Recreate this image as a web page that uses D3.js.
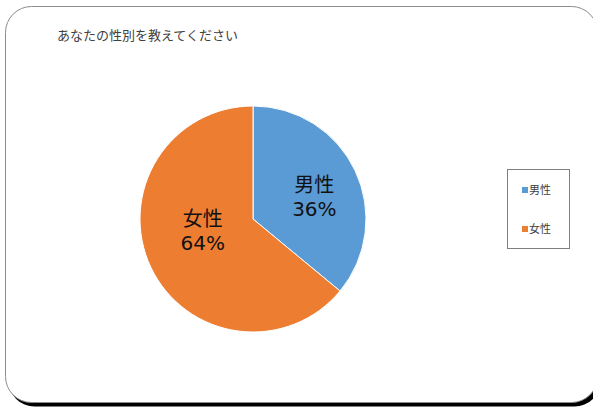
<html>
<head>
    <meta charset="utf-8">
    <script src="https://cdn.jsdelivr.net/npm/d3@7"></script>
    <style>
        body { margin: 0; background: #fff; }
    </style>
</head>
<body>
    <script type="text/javascript">
        var width = 593;
        var height = 408;

        // chart data
        const title = "あなたの性別を教えてください";
        const categories = ["男性", "女性"];
        const values = [36, 64];
        const colors = ["#5B9BD5", "#ED7D31"];

        const svg = d3.select("body").append("svg")
            .attr("width", width)
            .attr("height", height)
            .style("font-family", "'Noto Sans CJK JP', sans-serif");

        // frame with shadow
        svg.append("rect")
            .attr("x", 8.5).attr("y", 10.5)
            .attr("width", 592).attr("height", 396)
            .attr("rx", 26).attr("ry", 26)
            .attr("fill", "#000");

        svg.append("rect")
            .attr("x", 5.5).attr("y", 6.5)
            .attr("width", 592).attr("height", 396)
            .attr("rx", 26).attr("ry", 26)
            .attr("fill", "#fff")
            .attr("stroke", "#8c8c8c")
            .attr("stroke-width", 1);

        svg.append("text")
            .attr("x", 57)
            .attr("y", 40)
            .style("font-size", "13px")
            .attr("fill", "#404040")
            .text(title);

        // pie
        const data = categories.map((c, i) => ({ name: c, value: values[i], color: colors[i] }));
        const radius = 113;
        const cx = 253, cy = 219;

        const pie = d3.pie().sort(null).value(d => d.value);
        const arc = d3.arc().innerRadius(0).outerRadius(radius);
        const labelArc = d3.arc().innerRadius(radius * 0.6).outerRadius(radius * 0.6);
        // small manual nudges, like excel's label placement
        const labelNudge = [[0, 6], [11, -18]];

        const g = svg.append("g").attr("transform", `translate(${cx},${cy})`);

        const arcs = pie(data);

        g.selectAll("path")
            .data(arcs)
            .join("path")
            .attr("d", arc)
            .attr("fill", d => d.data.color)
            .attr("stroke", "#fff")
            .attr("stroke-width", 1);

        const labels = g.selectAll("g.label")
            .data(arcs)
            .join("g")
            .attr("class", "label")
            .attr("transform", (d, i) => {
                const c = labelArc.centroid(d);
                return `translate(${c[0] + labelNudge[i][0]},${c[1] + labelNudge[i][1]})`;
            })
            .style("font-family", "'DejaVu Sans', 'Noto Sans CJK JP', sans-serif")
            .style("font-size", "20px")
            .attr("fill", "#111");

        labels.append("text")
            .attr("text-anchor", "middle")
            .attr("y", -4)
            .style("font-family", "'Noto Sans CJK JP', sans-serif")
            .text(d => d.data.name);

        labels.append("text")
            .attr("text-anchor", "middle")
            .attr("y", 20)
            .text(d => d.data.value + "%");

        // legend
        const legend = svg.append("g");
        legend.append("rect")
            .attr("x", 507.5).attr("y", 169.5)
            .attr("width", 62).attr("height", 79)
            .attr("fill", "#fff")
            .attr("stroke", "#7f7f7f");

        const items = legend.selectAll("g.item")
            .data(data)
            .join("g")
            .attr("class", "item")
            .attr("transform", (d, i) => `translate(522,${190 + i * 39})`);

        items.append("rect")
            .attr("x", 0).attr("y", -3)
            .attr("width", 6).attr("height", 6)
            .attr("fill", d => d.color);

        items.append("text")
            .attr("x", 7)
            .attr("y", 4)
            .style("font-size", "11px")
            .attr("fill", "#404040")
            .text(d => d.name);
    </script>
</body>
</html>
